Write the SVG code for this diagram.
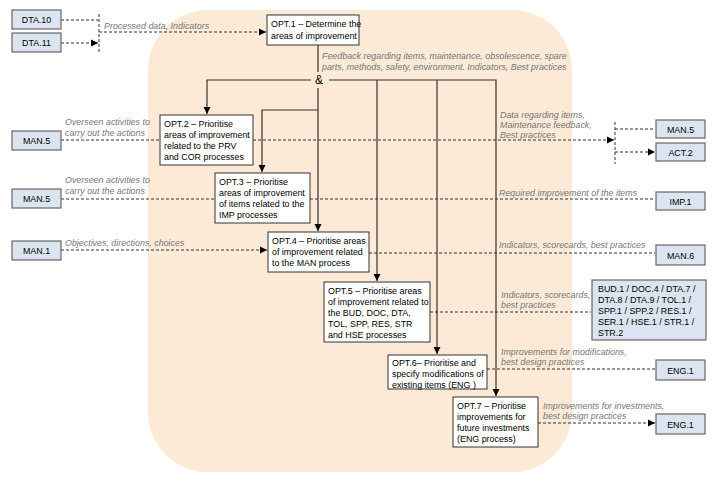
<svg xmlns="http://www.w3.org/2000/svg" width="720" height="482" viewBox="0 0 720 482">
<defs>
<marker id="ah" markerWidth="8" markerHeight="8" refX="7" refY="4" orient="auto" markerUnits="userSpaceOnUse"><path d="M0,0.5 L7,4 L0,7.5 Z" fill="#000"/></marker>
<style>
text{font-family:"Liberation Sans",Arial,sans-serif;font-size:8.9px;fill:#000}
.lbl{font-style:italic;fill:#777}
.ext{fill:#dbe5f1;stroke:#666;stroke-width:1.2}
.opt{fill:#fff;stroke:#333;stroke-width:1}
.d{fill:none;stroke:#333;stroke-width:1;stroke-dasharray:3,2}
.s{fill:none;stroke:#333;stroke-width:1.2}
.c{text-anchor:middle}
</style>
</defs>
<rect width="720" height="482" fill="#fff"/>
<rect x="148" y="10" width="424" height="462" rx="60" fill="#fce9d6"/>
<g id="connectors">
<path class="d" d="M61,20 H98 M61,43 H98" marker-end="url(#ah)"/>
<path class="d" d="M99,14 V53"/>
<path class="d" d="M99,32 H266" marker-end="url(#ah)"/>
<path class="s" d="M318,45 V72"/>
<path class="s" d="M311,80 H207 V114" marker-end="url(#ah)"/>
<path class="s" d="M318,88 V231" marker-end="url(#ah)"/>
<path class="s" d="M318,110 H262 V172" marker-end="url(#ah)"/>
<path class="s" d="M329,80 H496 V396" marker-end="url(#ah)"/>
<path class="s" d="M377,80 V281" marker-end="url(#ah)"/>
<path class="s" d="M437,80 V354" marker-end="url(#ah)"/>
<path class="d" d="M61,140 H159 M61,199 H214 M61,250 H267" marker-end="url(#ah)"/>
<path class="d" d="M253,140 H614" marker-end="url(#ah)"/>
<path class="d" d="M615,122 V164"/>
<path class="d" d="M615,129 H655 M615,152 H655" marker-end="url(#ah)"/>
<path class="d" d="M310,199 H655 M369,253 H655 M430,312 H591 M487,369 H655 M538,423 H655" marker-end="url(#ah)"/>
</g>
<g id="labels">
<text class="lbl" x="104" y="29">Processed data, Indicators</text>
<text class="lbl" x="322" y="59">Feedback regarding items, maintenance, obsolescence, spare</text>
<text class="lbl" x="322" y="70">parts, methods, safety, environment. Indicators, Best practices</text>
<text x="319" y="84" class="c" style="font-size:12px">&amp;</text>
<text class="lbl" x="65" y="125">Overseen activities to</text>
<text class="lbl" x="65" y="136">carry out the actions</text>
<text class="lbl" x="65" y="183">Overseen activities to</text>
<text class="lbl" x="65" y="194">carry out the actions</text>
<text class="lbl" x="65" y="246">Objectives, directions, choices</text>
<text class="lbl" x="500" y="118">Data regarding items,</text>
<text class="lbl" x="500" y="128">Maintenance feedback,</text>
<text class="lbl" x="500" y="138">Best practices</text>
<text class="lbl" x="499" y="196">Required improvement of the items</text>
<text class="lbl" x="499" y="248">Indicators, scorecards, best practices</text>
<text class="lbl" x="501" y="298">Indicators, scorecards,</text>
<text class="lbl" x="501" y="308">best practices</text>
<text class="lbl" x="501" y="355">Improvements for modifications,</text>
<text class="lbl" x="501" y="365">best design practices</text>
<text class="lbl" x="543" y="409">Improvements for investments,</text>
<text class="lbl" x="543" y="419">best design practices</text>
</g>
<g id="DTA10"><rect class="ext" x="12" y="10" width="49" height="19"/><text class="c" x="36.5" y="23">DTA.10</text></g>
<g id="DTA11"><rect class="ext" x="12" y="33" width="49" height="19"/><text class="c" x="36.5" y="46">DTA.11</text></g>
<g id="MAN5a"><rect class="ext" x="12" y="131" width="49" height="19"/><text class="c" x="36.5" y="144">MAN.5</text></g>
<g id="MAN5b"><rect class="ext" x="12" y="189" width="49" height="19"/><text class="c" x="36.5" y="202">MAN.5</text></g>
<g id="MAN1"><rect class="ext" x="12" y="241" width="49" height="19"/><text class="c" x="36.5" y="254">MAN.1</text></g>
<g id="MAN5r"><rect class="ext" x="656" y="120" width="49" height="18"/><text class="c" x="680.5" y="133">MAN.5</text></g>
<g id="ACT2"><rect class="ext" x="656" y="143" width="49" height="18"/><text class="c" x="680.5" y="156">ACT.2</text></g>
<g id="IMP1"><rect class="ext" x="656" y="192" width="49" height="18"/><text class="c" x="680.5" y="205">IMP.1</text></g>
<g id="MAN6"><rect class="ext" x="656" y="245" width="49" height="20"/><text class="c" x="680.5" y="259">MAN.6</text></g>
<g id="BUD"><rect class="ext" x="592" y="280" width="114" height="60"/>
<text x="598" y="292">BUD.1 / DOC.4 / DTA.7 /</text><text x="598" y="303">DTA.8 / DTA.9 / TOL.1 /</text><text x="598" y="314">SPP.1 / SPP.2 / RES.1 /</text><text x="598" y="325">SER.1 / HSE.1 / STR.1 /</text><text x="598" y="336">STR.2</text></g>
<g id="ENG1a"><rect class="ext" x="656" y="360" width="49" height="20"/><text class="c" x="680.5" y="374">ENG.1</text></g>
<g id="ENG1b"><rect class="ext" x="656" y="414" width="49" height="20"/><text class="c" x="680.5" y="428">ENG.1</text></g>
<g id="OPT1"><rect class="opt" x="267" y="15" width="92" height="30"/><text x="271" y="27">OPT.1 – Determine  the</text><text x="271" y="39">areas of improvement</text></g>
<g id="OPT2"><rect class="opt" x="160" y="115" width="93" height="50"/><text x="164" y="127">OPT.2 – Prioritise</text><text x="164" y="138">areas of improvement</text><text x="164" y="149">related to the PRV</text><text x="164" y="160">and COR processes</text></g>
<g id="OPT3"><rect class="opt" x="215" y="173" width="95" height="50"/><text x="219" y="185">OPT.3 – Prioritise</text><text x="219" y="196">areas of improvement</text><text x="219" y="207">of items related to the</text><text x="219" y="218">IMP processes</text></g>
<g id="OPT4"><rect class="opt" x="268" y="232" width="101" height="40"/><text x="272" y="244">OPT.4 – Prioritise areas</text><text x="272" y="255">of improvement related</text><text x="272" y="266">to the MAN process</text></g>
<g id="OPT5"><rect class="opt" x="324" y="282" width="106" height="60"/><text x="328" y="294">OPT.5 – Prioritise areas</text><text x="328" y="305">of improvement related to</text><text x="328" y="316">the BUD, DOC, DTA,</text><text x="328" y="327">TOL, SPP, RES, STR</text><text x="328" y="338">and HSE processes</text></g>
<g id="OPT6"><rect class="opt" x="388" y="355" width="99" height="34"/><text x="392" y="366">OPT.6– Prioritise and</text><text x="392" y="377">specify modifications of</text><text x="392" y="388">existing items (ENG )</text></g>
<g id="OPT7"><rect class="opt" x="453" y="397" width="85" height="50"/><text x="457" y="409">OPT.7 – Prioritise</text><text x="457" y="420">improvements for</text><text x="457" y="431">future investments</text><text x="457" y="442">(ENG process)</text></g>
</svg>
